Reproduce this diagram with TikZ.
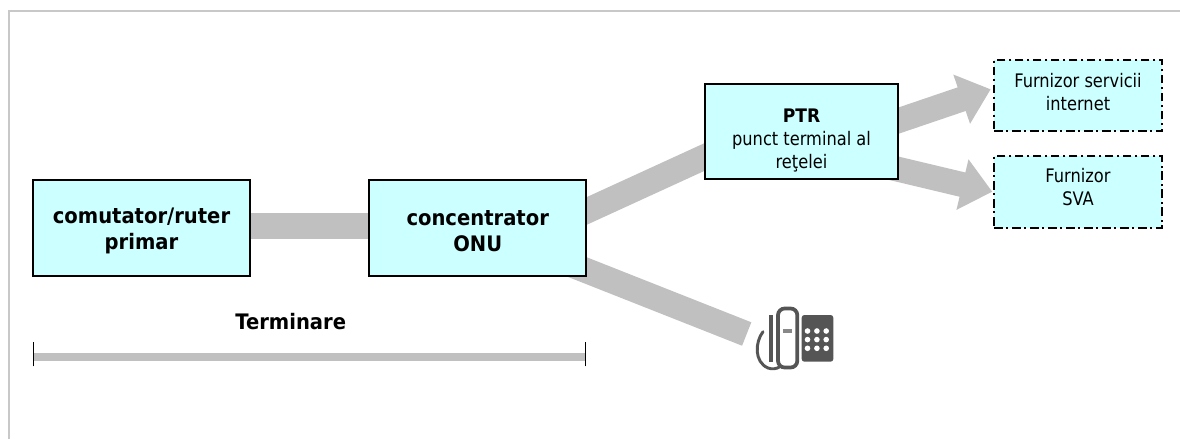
\documentclass[tikz,border=0pt]{standalone}
\usepackage{fontspec}
\setmainfont{DejaVu Sans}[FakeStretch=0.87,BoldFeatures={FakeStretch=0.917}]
\usetikzlibrary{arrows.meta,backgrounds}
\definecolor{boxcyan}{HTML}{CCFFFF}
\definecolor{linkgray}{HTML}{C0C0C0}
\definecolor{framegray}{HTML}{C8C8C8}
\definecolor{phonegray}{HTML}{555555}
\newcommand\pushtop[1]{\rule{0pt}{#1}}
\newcommand\pushbot[1]{\rule[-#1]{0pt}{#1}}
\tikzset{
  x=0.75pt,y=-0.75pt,
  mainbox/.style={draw=black,line width=1.4pt,fill=boxcyan,align=center,inner sep=0pt,minimum width=162.5pt,minimum height=72pt,font=\fontsize{16}{19.5}\selectfont\bfseries},
  ptrbox/.style={draw=black,line width=1.3pt,fill=boxcyan,align=center,inner sep=0pt,minimum width=144.5pt,minimum height=71.5pt,font=\fontsize{14}{17.2}\selectfont},
  extbox/.style={draw=black,line width=1.3pt,fill=boxcyan,align=center,inner sep=0pt,minimum width=126pt,minimum height=53.5pt,dash pattern=on 6.5pt off 2.5pt on 1.5pt off 3pt,font=\fontsize{14}{17.2}\selectfont},
  pipe/.style={draw=linkgray,line width=18.9pt},
  thinpipe/.style={draw=linkgray,line width=6.2pt},
  arrowpipe/.style={draw=linkgray,fill=linkgray,line width=18.7pt,-{Triangle[length=23pt,width=37.5pt]}},
  endtick/.style={draw=black,line width=1pt},
  labeltext/.style={font=\fontsize{16}{19.5}\selectfont\bfseries,inner sep=0pt},
  phoneline/.style={draw=phonegray,line width=2.8pt,line cap=round},
  phonedot/.style={fill=white,draw=none,circle,inner sep=0pt,minimum size=4.2pt}
}
\begin{document}
\begin{tikzpicture}
\useasboundingbox (0,0) rectangle (1180,439);
\draw[framegray,line width=1.5pt] (8.5,439) -- (8.5,11) -- (1180,11);
% boxes
\node[mainbox] (sw) at (141.5,227.7) {\pushtop{17pt}comutator/ruter\\primar};
\node[mainbox] (conc) at (477.7,227.7) {\pushtop{17pt}concentrator\\ONU};
\node[ptrbox] (ptr) at (801.5,131.5) {\pushtop{24pt}\textbf{PTR}\\punct terminal al\\reţelei};
\node[extbox] (isp) at (1078,95.5) {Furnizor servicii\\internet\pushbot{6pt}};
\node[extbox] (sva) at (1078,192) {Furnizor\\SVA\pushbot{7pt}};
\node[labeltext] (term) at (290.7,321.5) {Terminare};
% connector ends
\coordinate (swout) at (141.5,226);
\coordinate (concin) at (477.7,226);
\coordinate (ptrin) at (730,145.3);
\coordinate (concout) at (560,223.2);
\coordinate (ptrout1) at (860,133.7);
\coordinate (isptip) at (990.7,89.3);
\coordinate (ptrout2) at (860,160.2);
\coordinate (svatip) at (992.3,191.7);
\coordinate (phoneend) at (746.7,334);
\coordinate (barL) at (33.7,356.8);
\coordinate (barR) at (585.7,356.8);
\begin{scope}[on background layer]
  \draw[pipe] (swout) -- (concin);
  \draw[pipe] (concout) -- (ptrin);
  \draw[pipe] (conc.center) -- (phoneend);
  \draw[arrowpipe] (ptrout1) -- (isptip);
  \draw[arrowpipe] (ptrout2) -- (svatip);
  \draw[thinpipe] (barL) -- (barR);
\end{scope}
\draw[endtick] ([yshift=-9.5*0.75pt]barL) -- ([yshift=15*0.75pt]barL);
\draw[endtick] ([yshift=-9.5*0.75pt]barR) -- ([yshift=15*0.75pt]barR);
% telephone
\fill[phonegray,rounded corners=2pt] (801.7,315) rectangle (833.3,361.7);
\foreach \px in {807.5,816.9,826.2}
  \foreach \py in {331,339.6,348.3}
    \node[phonedot] at (\px,\py) {};
\draw[phoneline,rounded corners=5pt] (778,308.5) rectangle (797.3,367.5);
\draw[phonegray,line width=3pt] (770.7,315) -- (770.7,361.7);
\fill[phonegray!70] (783,329.3) rectangle (792,333);
\draw[phoneline,line width=2.2pt] (763,331.7) .. controls (755,342) and (754,362) .. (768,368) .. controls (772,369.5) and (777,369) .. (780,366.5);
\end{tikzpicture}
\end{document}
